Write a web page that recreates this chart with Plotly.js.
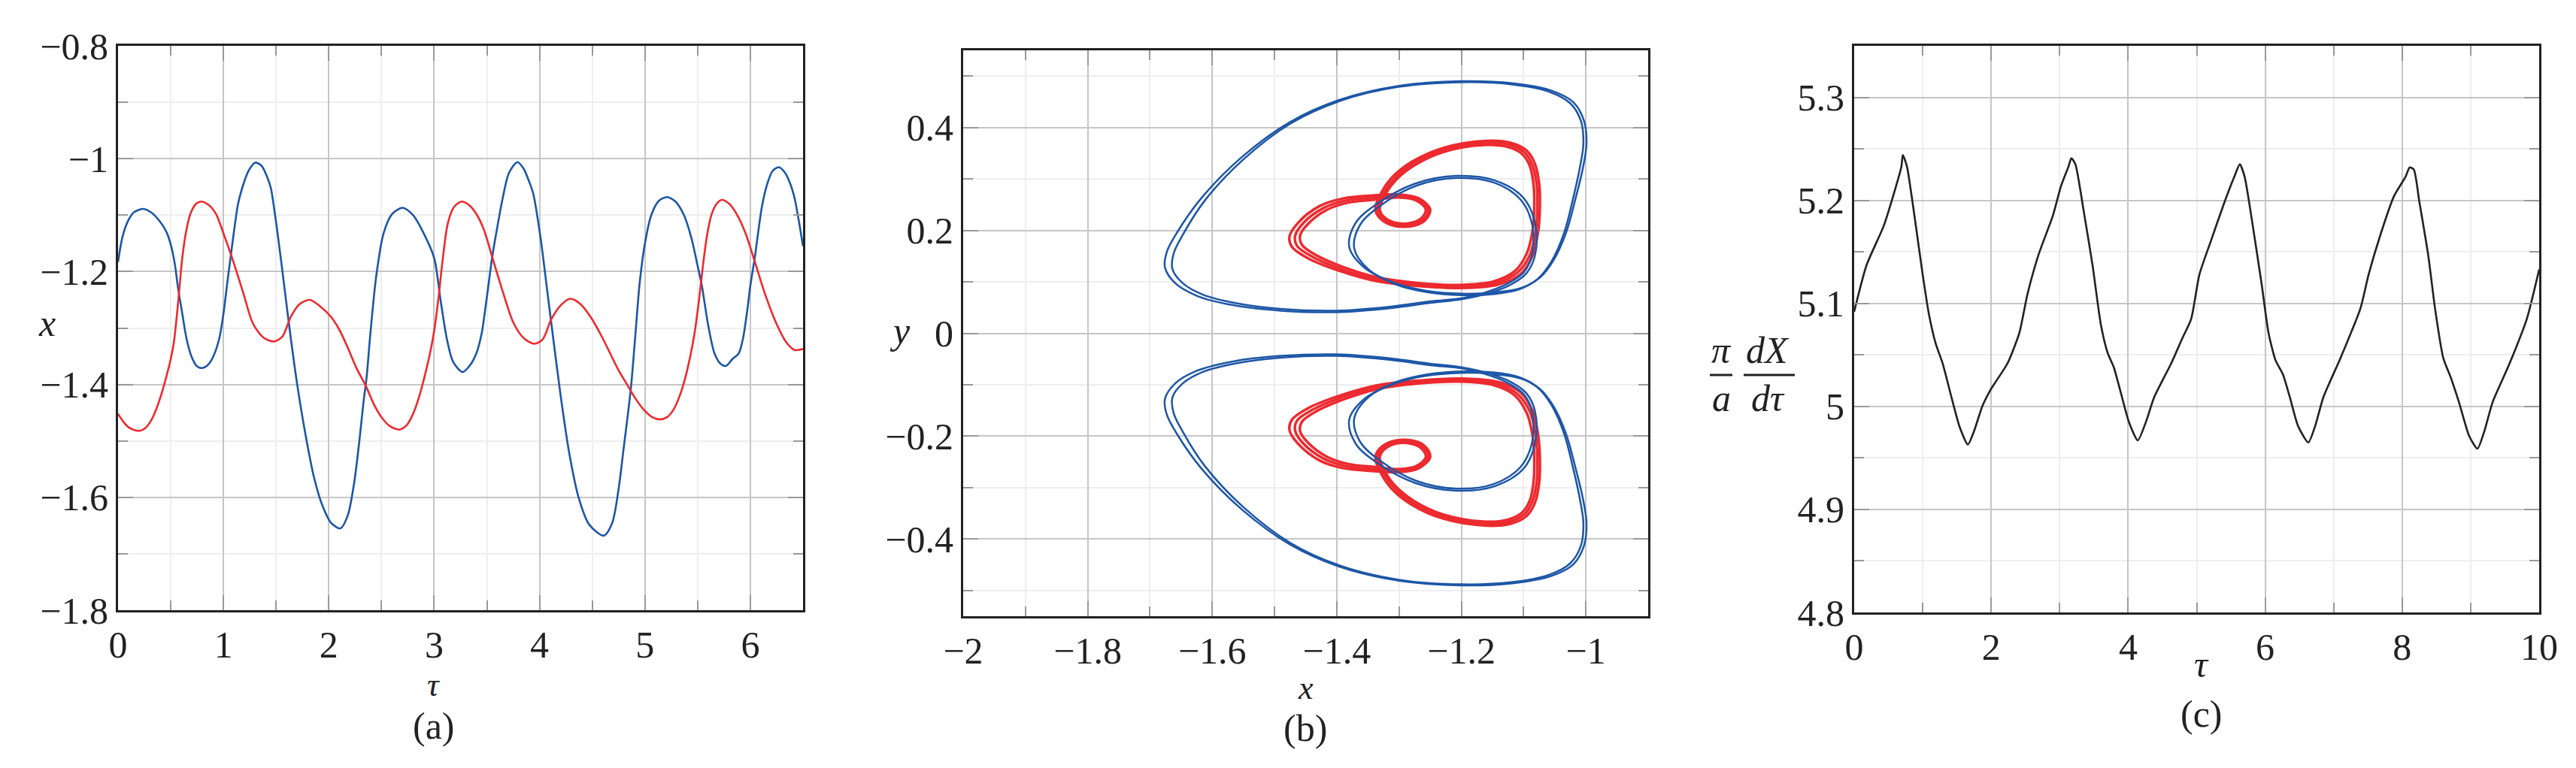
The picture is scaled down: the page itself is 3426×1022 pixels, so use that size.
<!DOCTYPE html>
<html>
<head>
<meta charset="utf-8">
<script src="https://cdn.plot.ly/plotly-3.0.1.min.js"></script>
<style>html,body{margin:0;padding:0;background:#fff;}#chart{width:3426px;height:1022px;}</style>
</head>
<body>
<div id="chart"></div>
<script>
// ---------- Panel (a): x(tau) ----------
const tauBlueA = [0.00,0.04,0.09,0.15,0.24,0.32,0.40,0.46,0.50,0.54,0.57,0.61,0.65,0.70,0.75,0.80,0.85,0.90,0.96,1.00,1.04,1.07,1.11,1.14,1.19,1.24,1.30,1.36,1.41,1.45,1.49,1.52,1.55,1.58,1.64,1.70,1.78,1.86,1.94,2.02,2.11,2.18,2.24,2.29,2.33,2.36,2.39,2.45,2.52,2.60,2.70,2.80,2.90,3.00,3.06,3.12,3.18,3.27,3.34,3.40,3.45,3.50,3.55,3.60,3.65,3.71,3.79,3.85,3.90,3.94,4.01,4.07,4.13,4.20,4.28,4.37,4.47,4.61,4.69,4.75,4.80,4.84,4.87,4.91,4.95,5.00,5.06,5.13,5.21,5.29,5.37,5.44,5.50,5.54,5.60,5.66,5.72,5.77,5.83,5.89,5.93,5.97,6.00,6.04,6.11,6.16,6.21,6.27,6.33,6.38,6.42,6.46,6.50];
const xBlueA   = [-1.183,-1.140,-1.112,-1.095,-1.089,-1.096,-1.112,-1.130,-1.152,-1.188,-1.230,-1.275,-1.319,-1.352,-1.368,-1.371,-1.366,-1.352,-1.319,-1.275,-1.215,-1.172,-1.115,-1.079,-1.045,-1.021,-1.007,-1.012,-1.030,-1.052,-1.100,-1.141,-1.185,-1.230,-1.319,-1.400,-1.490,-1.565,-1.615,-1.645,-1.655,-1.632,-1.575,-1.500,-1.430,-1.385,-1.319,-1.208,-1.132,-1.098,-1.087,-1.100,-1.132,-1.176,-1.250,-1.319,-1.360,-1.378,-1.366,-1.345,-1.310,-1.245,-1.175,-1.120,-1.070,-1.025,-1.006,-1.018,-1.040,-1.062,-1.141,-1.230,-1.319,-1.420,-1.520,-1.600,-1.648,-1.668,-1.645,-1.585,-1.510,-1.450,-1.400,-1.310,-1.220,-1.150,-1.100,-1.075,-1.068,-1.076,-1.100,-1.140,-1.190,-1.225,-1.295,-1.345,-1.364,-1.367,-1.355,-1.345,-1.319,-1.270,-1.225,-1.178,-1.085,-1.045,-1.022,-1.015,-1.025,-1.045,-1.070,-1.110,-1.155];

const tauRedA = [0.00,0.05,0.10,0.16,0.21,0.26,0.31,0.36,0.41,0.46,0.50,0.53,0.57,0.61,0.65,0.69,0.74,0.79,0.86,0.93,1.00,1.09,1.19,1.28,1.38,1.48,1.56,1.64,1.72,1.82,1.92,2.02,2.10,2.18,2.26,2.35,2.43,2.50,2.58,2.67,2.74,2.80,2.86,2.91,2.96,3.00,3.04,3.08,3.13,3.19,3.26,3.33,3.40,3.47,3.56,3.65,3.75,3.85,3.95,4.03,4.11,4.20,4.29,4.39,4.49,4.59,4.67,4.75,4.83,4.91,4.99,5.07,5.14,5.21,5.27,5.33,5.38,5.43,5.47,5.51,5.55,5.59,5.63,5.68,5.73,5.80,5.87,5.95,6.04,6.14,6.24,6.34,6.42,6.50];
const xRedA   = [-1.452,-1.466,-1.476,-1.481,-1.482,-1.477,-1.465,-1.445,-1.418,-1.385,-1.355,-1.325,-1.255,-1.175,-1.125,-1.096,-1.080,-1.076,-1.082,-1.098,-1.132,-1.180,-1.239,-1.292,-1.317,-1.324,-1.315,-1.280,-1.258,-1.250,-1.262,-1.280,-1.303,-1.335,-1.370,-1.402,-1.436,-1.458,-1.474,-1.480,-1.472,-1.452,-1.420,-1.385,-1.345,-1.305,-1.248,-1.180,-1.114,-1.085,-1.076,-1.082,-1.098,-1.125,-1.180,-1.235,-1.290,-1.318,-1.328,-1.320,-1.285,-1.260,-1.248,-1.258,-1.282,-1.315,-1.345,-1.375,-1.400,-1.425,-1.445,-1.458,-1.462,-1.458,-1.445,-1.420,-1.390,-1.350,-1.310,-1.255,-1.190,-1.135,-1.100,-1.080,-1.073,-1.080,-1.098,-1.130,-1.181,-1.240,-1.289,-1.325,-1.339,-1.337];

// ---------- Panel (b): phase portrait (y vs x) ----------
const blueTop1X = [-1.200,-1.250,-1.313,-1.400,-1.487,-1.560,-1.615,-1.648,-1.664,-1.662,-1.648,-1.612,-1.550,-1.474,-1.394,-1.301,-1.200,-1.120,-1.060,-1.025,-1.008,-1.004,-1.010,-1.020,-1.035,-1.055,-1.078,-1.108,-1.150,-1.200,-1.255,-1.305,-1.350,-1.372,-1.363,-1.330,-1.272,-1.208,-1.148,-1.105,-1.086,-1.087,-1.100,-1.128,-1.165,-1.200];
const blueTop1Y = [0.068,0.062,0.052,0.044,0.047,0.058,0.075,0.098,0.125,0.155,0.190,0.258,0.338,0.408,0.452,0.479,0.488,0.484,0.470,0.447,0.413,0.369,0.320,0.265,0.195,0.140,0.105,0.085,0.076,0.074,0.080,0.095,0.125,0.165,0.210,0.248,0.287,0.302,0.293,0.260,0.210,0.150,0.118,0.095,0.078,0.068];
const blueBot1Y = [-0.068,-0.062,-0.052,-0.044,-0.047,-0.058,-0.075,-0.098,-0.125,-0.155,-0.190,-0.258,-0.338,-0.408,-0.452,-0.479,-0.488,-0.484,-0.470,-0.447,-0.413,-0.369,-0.320,-0.265,-0.195,-0.140,-0.105,-0.085,-0.076,-0.074,-0.080,-0.095,-0.125,-0.165,-0.210,-0.248,-0.287,-0.302,-0.293,-0.260,-0.210,-0.150,-0.118,-0.095,-0.078,-0.068];

const blueTop2X = [-1.200,-1.250,-1.313,-1.400,-1.490,-1.568,-1.625,-1.660,-1.676,-1.673,-1.657,-1.618,-1.553,-1.476,-1.395,-1.300,-1.200,-1.118,-1.056,-1.020,-1.003,-0.999,-1.005,-1.016,-1.032,-1.052,-1.074,-1.104,-1.150,-1.200,-1.258,-1.310,-1.357,-1.380,-1.370,-1.335,-1.274,-1.208,-1.146,-1.100,-1.081,-1.082,-1.096,-1.125,-1.165,-1.200];
const blueTop2Y = [0.066,0.059,0.049,0.041,0.044,0.055,0.073,0.098,0.128,0.158,0.195,0.262,0.342,0.410,0.454,0.481,0.490,0.486,0.472,0.449,0.413,0.369,0.320,0.265,0.195,0.142,0.108,0.088,0.079,0.077,0.083,0.099,0.129,0.168,0.214,0.252,0.291,0.306,0.297,0.263,0.210,0.150,0.116,0.092,0.075,0.066];
const blueBot2Y = [-0.066,-0.059,-0.049,-0.041,-0.044,-0.055,-0.073,-0.098,-0.128,-0.158,-0.195,-0.262,-0.342,-0.410,-0.454,-0.481,-0.490,-0.486,-0.472,-0.449,-0.413,-0.369,-0.320,-0.265,-0.195,-0.142,-0.108,-0.088,-0.079,-0.077,-0.083,-0.099,-0.129,-0.168,-0.214,-0.252,-0.291,-0.306,-0.297,-0.263,-0.210,-0.150,-0.116,-0.092,-0.075,-0.066];

const redTopAX = [-1.159,-1.120,-1.095,-1.082,-1.075,-1.074,-1.077,-1.086,-1.105,-1.140,-1.200,-1.270,-1.335,-1.395,-1.445,-1.472,-1.476,-1.462,-1.428,-1.390,-1.340,-1.300,-1.268,-1.250,-1.262,-1.295,-1.325,-1.338,-1.330,-1.312,-1.280,-1.230,-1.159];
const redTopAY = [0.374,0.370,0.355,0.330,0.290,0.240,0.195,0.150,0.115,0.095,0.088,0.092,0.101,0.121,0.145,0.168,0.188,0.215,0.247,0.262,0.268,0.270,0.262,0.240,0.216,0.207,0.218,0.240,0.270,0.302,0.333,0.360,0.374];
const redBotAY = [-0.374,-0.370,-0.355,-0.330,-0.290,-0.240,-0.195,-0.150,-0.115,-0.095,-0.088,-0.092,-0.101,-0.121,-0.145,-0.168,-0.188,-0.215,-0.247,-0.262,-0.268,-0.270,-0.262,-0.240,-0.216,-0.207,-0.218,-0.240,-0.270,-0.302,-0.333,-0.360,-0.374];

const redTopBX = [-1.165,-1.125,-1.102,-1.090,-1.084,-1.083,-1.086,-1.095,-1.114,-1.148,-1.205,-1.272,-1.333,-1.388,-1.432,-1.456,-1.459,-1.446,-1.416,-1.382,-1.338,-1.300,-1.272,-1.257,-1.267,-1.295,-1.320,-1.331,-1.323,-1.305,-1.276,-1.230,-1.165];
const redTopBY = [0.366,0.362,0.348,0.325,0.288,0.240,0.196,0.155,0.121,0.101,0.094,0.098,0.108,0.128,0.151,0.172,0.190,0.213,0.240,0.254,0.260,0.264,0.258,0.240,0.221,0.213,0.222,0.240,0.268,0.298,0.326,0.352,0.366];
const redBotBY = [-0.366,-0.362,-0.348,-0.325,-0.288,-0.240,-0.196,-0.155,-0.121,-0.101,-0.094,-0.098,-0.108,-0.128,-0.151,-0.172,-0.190,-0.213,-0.240,-0.254,-0.260,-0.264,-0.258,-0.240,-0.221,-0.213,-0.222,-0.240,-0.268,-0.298,-0.326,-0.352,-0.366];

const redTopCX = [-1.162,-1.122,-1.098,-1.086,-1.079,-1.078,-1.081,-1.090,-1.110,-1.144,-1.202,-1.271,-1.334,-1.391,-1.438,-1.464,-1.467,-1.454,-1.422,-1.386,-1.339,-1.300,-1.270,-1.253,-1.264,-1.295,-1.322,-1.334,-1.326,-1.308,-1.278,-1.230,-1.162];
const redTopCY = [0.370,0.366,0.351,0.327,0.289,0.240,0.195,0.152,0.118,0.098,0.091,0.095,0.104,0.124,0.148,0.170,0.189,0.214,0.243,0.258,0.264,0.267,0.260,0.240,0.218,0.210,0.220,0.240,0.269,0.300,0.330,0.356,0.370];
const redBotCY = [-0.370,-0.366,-0.351,-0.327,-0.289,-0.240,-0.195,-0.152,-0.118,-0.098,-0.091,-0.095,-0.104,-0.124,-0.148,-0.170,-0.189,-0.214,-0.243,-0.258,-0.264,-0.267,-0.260,-0.240,-0.218,-0.210,-0.220,-0.240,-0.269,-0.300,-0.330,-0.356,-0.370];

// ---------- Panel (c): (pi/a) dX/dtau ----------
const tauC = [0.00,0.18,0.43,0.59,0.69,0.71,0.77,0.88,1.00,1.09,1.19,1.29,1.42,1.54,1.66,1.75,1.87,1.99,2.24,2.41,2.53,2.69,2.90,3.02,3.13,3.17,3.23,3.35,3.48,3.60,3.70,3.79,3.89,4.01,4.14,4.26,4.38,4.63,4.79,4.92,5.04,5.21,5.41,5.55,5.63,5.70,5.82,5.95,6.05,6.15,6.26,6.36,6.48,6.63,6.73,6.85,7.10,7.39,7.51,7.68,7.88,8.05,8.11,8.17,8.25,8.38,8.48,8.60,8.71,8.83,8.98,9.10,9.20,9.32,9.57,9.82,10.00];
const dXC  = [5.092,5.137,5.175,5.209,5.233,5.244,5.233,5.185,5.128,5.090,5.061,5.042,5.009,4.980,4.963,4.976,5.000,5.016,5.042,5.071,5.109,5.147,5.185,5.214,5.233,5.241,5.235,5.190,5.137,5.080,5.052,5.038,5.014,4.985,4.967,4.985,5.009,5.042,5.066,5.085,5.128,5.161,5.199,5.223,5.235,5.223,5.175,5.118,5.071,5.045,5.031,5.009,4.981,4.965,4.981,5.009,5.047,5.095,5.128,5.166,5.204,5.223,5.232,5.230,5.199,5.147,5.095,5.047,5.028,5.004,4.971,4.959,4.976,5.004,5.042,5.085,5.133];

// ---------- styling ----------
const W = 3426, H = 1022;
const BLUE = '#1d56a6', RED = '#ec2a2f', BLACK = '#222222';
const SERIF = "'Liberation Serif', 'Times New Roman', 'DejaVu Serif', serif";
const px = v => v / W, py = v => 1 - v / H;

function axis(domain, range, dtick, tick0, minorDtick, anchor) {
  return {
    domain: domain, range: range, anchor: anchor,
    dtick: dtick, tick0: tick0, tickmode: 'linear',
    showline: true, mirror: 'allticks', linecolor: BLACK, linewidth: 3,
    ticks: 'inside', ticklen: 20, tickwidth: 2, tickcolor: '#999999',
    showgrid: true, gridcolor: '#c6c6c6', gridwidth: 2,
    zeroline: false,
    tickfont: {family: SERIF, size: 50, color: BLACK},
    minor: {dtick: minorDtick, ticks: 'inside', ticklen: 13, tickwidth: 2, tickcolor: '#999999',
            showgrid: true, gridcolor: '#eeeeee', gridwidth: 2},
    fixedrange: true
  };
}

const lw = 2.6;
function bLine(x, y, c, w) {
  return {x: x, y: y, xaxis: 'x2', yaxis: 'y2', mode: 'lines', line: {color: c, width: w, shape: 'spline', smoothing: 1}};
}
const traces = [
  {x: tauBlueA, y: xBlueA, xaxis: 'x', yaxis: 'y', mode: 'lines', line: {color: BLUE, width: lw, shape: 'spline', smoothing: 0.8}},
  {x: tauRedA, y: xRedA, xaxis: 'x', yaxis: 'y', mode: 'lines', line: {color: RED, width: lw, shape: 'spline', smoothing: 0.8}},

  bLine(redTopAX, redTopAY, RED, 3.5),
  bLine(redTopBX, redTopBY, RED, 3.5),
  bLine(redTopCX, redTopCY, RED, 3.5),
  bLine(redTopAX, redBotAY, RED, 3.5),
  bLine(redTopBX, redBotBY, RED, 3.5),
  bLine(redTopCX, redBotCY, RED, 3.5),
  bLine(blueTop1X, blueTop1Y, BLUE, 2.5),
  bLine(blueTop2X, blueTop2Y, BLUE, 2.5),
  bLine(blueTop1X, blueBot1Y, BLUE, 2.5),
  bLine(blueTop2X, blueBot2Y, BLUE, 2.5),

  {x: tauC, y: dXC, xaxis: 'x3', yaxis: 'y3', mode: 'lines', line: {color: BLACK, width: 2.6, shape: 'spline', smoothing: 0.6}}
];

function ann(text, x, y, size) {
  return {text: text, x: px(x), y: py(y), xref: 'paper', yref: 'paper', showarrow: false,
          xanchor: 'center', yanchor: 'middle', borderpad: 0,
          font: {family: SERIF, size: size || 50, color: BLACK}};
}

const layout = {
  width: W, height: H,
  margin: {l: 0, r: 0, t: 0, b: 0},
  paper_bgcolor: '#ffffff', plot_bgcolor: '#ffffff',
  showlegend: false,
  font: {family: SERIF, color: BLACK},
  xaxis:  axis([px(157), px(1068)], [0, 6.5], 1, 0, 0.5, 'y'),
  yaxis:  axis([py(812), py(61)], [-1.8, -0.8], 0.2, -1.8, 0.1, 'x'),
  xaxis2: axis([px(1281), px(2192)], [-2, -0.9], 0.2, -2, 0.1, 'y2'),
  yaxis2: axis([py(820), py(67)], [-0.55, 0.55], 0.2, 0, 0.1, 'x2'),
  xaxis3: axis([px(2466), px(3377)], [0, 10], 2, 0, 1, 'y3'),
  yaxis3: axis([py(815), py(61)], [4.8, 5.35], 0.1, 4.8, 0.05, 'x3'),
  annotations: [
    ann('<i>x</i>', 62, 430),
    ann('<i>τ</i>', 577, 911, 44),
    ann('(a)', 577, 966),
    ann('<i>y</i>', 1197, 440),
    ann('<i>x</i>', 1736, 915, 44),
    ann('(b)', 1736, 969),
    ann('<i>τ</i>', 2928, 884),
    ann('(c)', 2928, 950),
    ann('<i>π</i>', 2289, 466),
    ann('<i>a</i>', 2289, 530),
    ann('<i>dX</i>', 2351, 466),
    ann('<i>dτ</i>', 2351, 530)
  ],
  shapes: [
    {type: 'line', xref: 'paper', yref: 'paper', x0: px(2274), x1: px(2304), y0: py(499), y1: py(499), line: {color: BLACK, width: 3}},
    {type: 'line', xref: 'paper', yref: 'paper', x0: px(2319), x1: px(2387), y0: py(499), y1: py(499), line: {color: BLACK, width: 3}}
  ]
};

Plotly.newPlot('chart', traces, layout, {displayModeBar: false, staticPlot: true});
</script>
</body>
</html>
